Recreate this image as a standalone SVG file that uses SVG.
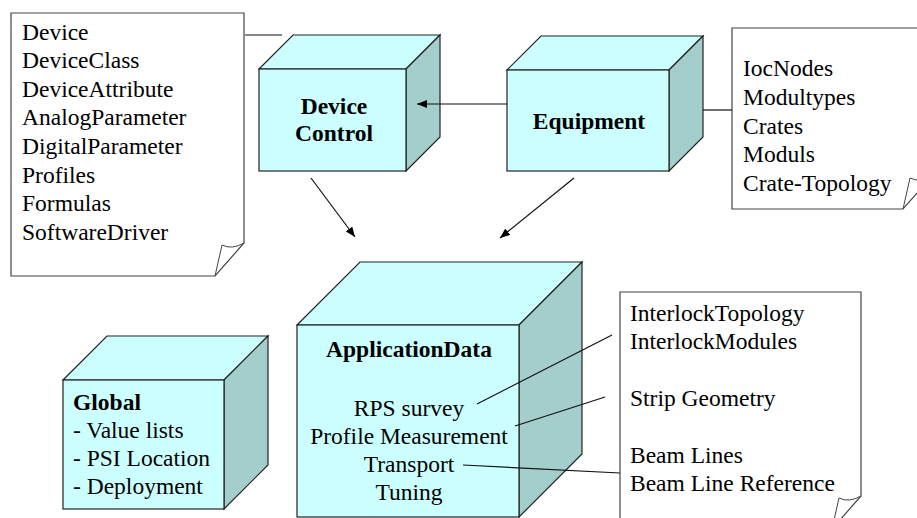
<svg xmlns="http://www.w3.org/2000/svg" width="917" height="518" viewBox="0 0 917 518">
<defs>
<style>
.front{fill:#CCFFFF;stroke:#222;stroke-width:1.2}
.side{fill:#A4CECC;stroke:#222;stroke-width:1.2}
.note{fill:#fff;stroke:#444;stroke-width:1.2}
.curl{fill:none;stroke:#444;stroke-width:1}
.c{fill:none;stroke:#111;stroke-width:1.2}
</style>
<marker id="ah" viewBox="0 0 10 8" refX="10" refY="4" markerWidth="10" markerHeight="8" markerUnits="userSpaceOnUse" orient="auto">
<path d="M0,0 L10,4 L0,8 Z" fill="#000"/>
</marker>
</defs>
<rect width="917" height="518" fill="#fff"/>

<g id="note-device">
<polygon class="note" points="11,13 244,13 244,243 215,276 11,276"/>
<path class="curl" d="M244,243 Q232,250 222,245 L215,276"/>
<text style="font-family:'Liberation Serif';font-size:23.5px" x="22" y="39.5">Device</text>
<text style="font-family:'Liberation Serif';font-size:23.5px" x="22" y="68">DeviceClass</text>
<text style="font-family:'Liberation Serif';font-size:23.5px" x="22" y="96.5">DeviceAttribute</text>
<text style="font-family:'Liberation Serif';font-size:23.5px" x="22" y="125">AnalogParameter</text>
<text style="font-family:'Liberation Serif';font-size:23.5px" x="22" y="154">DigitalParameter</text>
<text style="font-family:'Liberation Serif';font-size:23.5px" x="22" y="182.5">Profiles</text>
<text style="font-family:'Liberation Serif';font-size:23.5px" x="22" y="211">Formulas</text>
<text style="font-family:'Liberation Serif';font-size:23.5px" x="22" y="240">SoftwareDriver</text>
</g>

<g id="note-equipment">
<polygon class="note" points="732,28 932,28 932,176 903,209 732,209"/>
<path class="curl" d="M932,176 Q920,183 910,178 L903,209"/>
<text style="font-family:'Liberation Serif';font-size:23.5px" x="743" y="76">IocNodes</text>
<text style="font-family:'Liberation Serif';font-size:23.5px" x="743" y="104.5">Modultypes</text>
<text style="font-family:'Liberation Serif';font-size:23.5px" x="743" y="133.5">Crates</text>
<text style="font-family:'Liberation Serif';font-size:23.5px" x="743" y="162">Moduls</text>
<text style="font-family:'Liberation Serif';font-size:23.5px" x="743" y="191">Crate-Topology</text>
</g>

<g id="note-appdata">
<polygon class="note" points="620,292 861,292 861,496 832,529 620,529"/>
<path class="curl" d="M861,496 Q849,503 839,498 L832,529"/>
<text style="font-family:'Liberation Serif';font-size:23.5px" x="630" y="321">InterlockTopology</text>
<text style="font-family:'Liberation Serif';font-size:23.5px" x="630" y="349">InterlockModules</text>
<text style="font-family:'Liberation Serif';font-size:23.5px" x="630" y="406">Strip Geometry</text>
<text style="font-family:'Liberation Serif';font-size:23.5px" x="630" y="463">Beam Lines</text>
<text style="font-family:'Liberation Serif';font-size:23.5px" x="630" y="491">Beam Line Reference</text>
</g>

<g id="device-control">
<polygon class="front" points="259,69 293,35 440,35 406,69"/>
<polygon class="side" points="406,69 440,35 440,137 406,171"/>
<rect class="front" x="259" y="69" width="147" height="102"/>
<text style="font-family:'Liberation Serif';font-size:23.5px;font-weight:bold;text-anchor:middle" x="334" y="113.5">Device</text>
<text style="font-family:'Liberation Serif';font-size:23.5px;font-weight:bold;text-anchor:middle" x="334" y="141">Control</text>
</g>

<g id="equipment">
<polygon class="front" points="507,70 541,36 703,36 669,70"/>
<polygon class="side" points="669,70 703,36 703,137 669,171"/>
<rect class="front" x="507" y="70" width="162" height="101"/>
<text style="font-family:'Liberation Serif';font-size:23.5px;font-weight:bold;text-anchor:middle" x="589" y="128.5">Equipment</text>
</g>

<g id="application-data">
<polygon class="front" points="297,325 360,262 582,262 519,325"/>
<polygon class="side" points="519,325 582,262 582,454 519,517"/>
<rect class="front" x="297" y="325" width="222" height="192"/>
<text style="font-family:'Liberation Serif';font-size:23.5px;font-weight:bold;text-anchor:middle" x="409" y="357">ApplicationData</text>
<text style="font-family:'Liberation Serif';font-size:23.5px;text-anchor:middle" x="409" y="416">RPS survey</text>
<text style="font-family:'Liberation Serif';font-size:23.5px;text-anchor:middle" x="409" y="443.5">Profile Measurement</text>
<text style="font-family:'Liberation Serif';font-size:23.5px;text-anchor:middle" x="409" y="472">Transport</text>
<text style="font-family:'Liberation Serif';font-size:23.5px;text-anchor:middle" x="409" y="500">Tuning</text>
</g>

<g id="global">
<polygon class="front" points="63,380 107,336 268,336 224,380"/>
<polygon class="side" points="224,380 268,336 268,465 224,509"/>
<rect class="front" x="63" y="380" width="161" height="129"/>
<text style="font-family:'Liberation Serif';font-size:23.5px;font-weight:bold" x="73" y="410">Global</text>
<text style="font-family:'Liberation Serif';font-size:23.5px" x="73" y="437.5">- Value lists</text>
<text style="font-family:'Liberation Serif';font-size:23.5px" x="73" y="466">- PSI Location</text>
<text style="font-family:'Liberation Serif';font-size:23.5px" x="73" y="493.5">- Deployment</text>
</g>

<g id="connectors">
<line class="c" x1="245" y1="35" x2="282" y2="35"/>
<line class="c" x1="507" y1="104" x2="417" y2="104" marker-end="url(#ah)"/>
<line class="c" x1="703" y1="110" x2="732" y2="110"/>
<line class="c" x1="311" y1="178" x2="355" y2="237" marker-end="url(#ah)"/>
<line class="c" x1="574" y1="178" x2="500" y2="238" marker-end="url(#ah)"/>
<line class="c" x1="477" y1="404" x2="612" y2="335"/>
<line class="c" x1="515" y1="426" x2="605" y2="397"/>
<line class="c" x1="463" y1="465" x2="620" y2="473"/>
</g>
</svg>
